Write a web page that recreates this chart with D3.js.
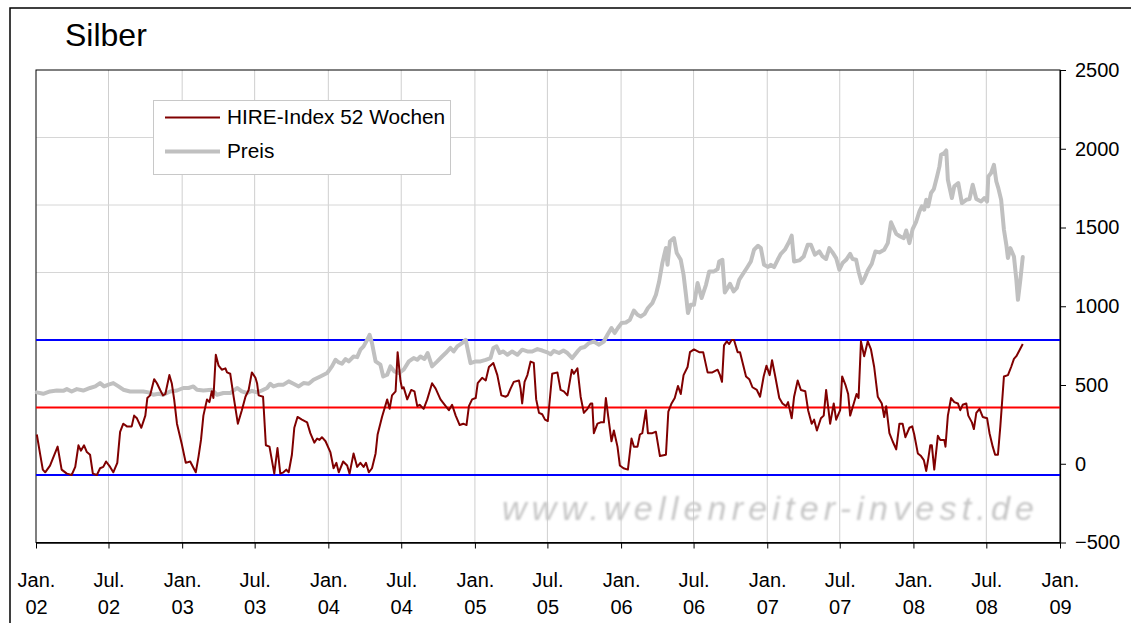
<!DOCTYPE html>
<html>
<head>
<meta charset="utf-8">
<script src="https://cdn.jsdelivr.net/npm/d3@7"></script>
<style>
  body { margin: 0; background: #fff; }
  svg { display: block; font-family: "Liberation Sans", Arial, sans-serif; }
</style>
</head>
<body>
<div id="chart"></div>
<script>
// days after 1 Jan 2002, value
const hireIndex = [
  [2,30],[10,16],[17,4],[23,2],[35,7],[54,21],[64,4],[77,1],[89,0],[98,6],[106,22],[112,18],[120,22],[127,17],[135,15],[142,1],[152,0],[160,5],[168,6],[175,10],[185,6],[193,2],[203,9],[210,32],[218,38],[227,36],[239,36],[245,44],[252,42],[263,35],[273,44],[278,57],[285,59],[295,71],[302,68],[310,63],[317,59],[323,60],[333,74],[339,68],[345,56],[352,38],[364,23],[374,9],[385,10],[399,2],[406,14],[412,26],[418,44],[427,56],[433,54],[439,62],[443,57],[449,89],[456,81],[464,78],[473,79],[477,76],[485,75],[493,59],[504,38],[514,48],[523,58],[531,63],[539,76],[548,72],[552,68],[556,59],[567,58],[574,22],[583,21],[595,1],[603,20],[610,1],[618,2],[625,4],[631,2],[639,15],[645,35],[653,43],[664,41],[677,39],[685,31],[695,24],[702,27],[708,26],[714,28],[723,25],[735,17],[743,5],[750,9],[756,2],[767,10],[777,7],[783,1],[793,16],[802,6],[810,9],[818,6],[824,9],[831,2],[839,5],[848,16],[853,30],[864,43],[877,56],[883,49],[889,59],[898,62],[903,91],[910,70],[914,64],[918,65],[927,56],[937,63],[945,62],[952,51],[958,52],[968,49],[977,56],[989,68],[998,64],[1010,56],[1023,51],[1031,48],[1039,52],[1048,44],[1058,37],[1067,38],[1075,37],[1081,51],[1089,56],[1098,57],[1103,68],[1114,72],[1123,70],[1131,80],[1142,83],[1152,74],[1162,59],[1173,58],[1178,59],[1185,64],[1193,69],[1206,70],[1210,64],[1214,53],[1220,69],[1227,74],[1235,84],[1243,83],[1249,56],[1256,46],[1264,45],[1271,41],[1278,40],[1289,75],[1302,76],[1310,63],[1318,62],[1327,59],[1338,78],[1343,75],[1352,79],[1360,58],[1368,46],[1377,49],[1385,53],[1389,53],[1393,31],[1402,38],[1410,39],[1418,39],[1423,57],[1429,43],[1437,25],[1443,33],[1452,21],[1458,7],[1467,5],[1478,4],[1487,27],[1493,21],[1502,21],[1508,30],[1514,31],[1523,48],[1528,31],[1539,31],[1548,32],[1558,14],[1573,15],[1579,47],[1587,53],[1595,57],[1603,66],[1610,60],[1617,74],[1627,80],[1633,91],[1643,93],[1656,91],[1666,91],[1677,76],[1689,76],[1702,78],[1708,74],[1713,69],[1718,96],[1725,99],[1731,97],[1737,100],[1743,100],[1752,91],[1758,91],[1773,73],[1781,71],[1789,65],[1800,63],[1808,58],[1817,73],[1824,81],[1832,74],[1838,85],[1846,73],[1856,57],[1864,53],[1873,51],[1878,54],[1887,42],[1893,58],[1902,70],[1910,63],[1921,62],[1928,48],[1937,38],[1943,41],[1950,33],[1960,42],[1967,44],[1973,63],[1983,38],[1992,53],[1998,41],[2008,48],[2013,73],[2021,67],[2028,60],[2033,44],[2042,53],[2049,60],[2054,57],[2060,99],[2068,88],[2077,99],[2085,93],[2093,80],[2102,58],[2112,53],[2118,43],[2123,51],[2131,31],[2139,25],[2148,19],[2156,38],[2164,38],[2171,28],[2181,35],[2188,36],[2193,30],[2202,16],[2210,14],[2217,11],[2223,3],[2228,12],[2233,22],[2237,22],[2243,4],[2252,29],[2258,26],[2268,26],[2271,21],[2277,44],[2285,57],[2293,54],[2302,53],[2308,48],[2314,52],[2323,53],[2328,44],[2337,39],[2342,34],[2348,46],[2356,49],[2364,43],[2375,42],[2381,31],[2389,21],[2395,15],[2402,15],[2408,36],[2417,73],[2427,74],[2435,80],[2442,86],[2448,88],[2464,97]
]

const silverPrice = [
  [2,453],[18,444],[35,459],[52,465],[68,463],[77,474],[89,459],[102,474],[118,465],[135,481],[148,491],[160,512],[170,491],[181,502],[193,512],[206,491],[218,470],[235,459],[252,459],[268,459],[281,453],[293,438],[306,444],[318,438],[335,459],[352,465],[368,481],[381,481],[393,491],[402,470],[418,465],[439,470],[452,438],[468,449],[485,449],[502,481],[514,459],[527,449],[539,463],[552,453],[564,465],[577,481],[585,508],[593,491],[606,502],[618,502],[631,523],[643,508],[656,491],[668,512],[681,508],[693,533],[710,554],[727,576],[739,618],[748,660],[756,643],[764,635],[773,665],[781,650],[793,681],[802,677],[810,724],[818,745],[827,787],[833,819],[839,766],[848,650],[860,629],[867,554],[877,565],[885,618],[895,586],[906,576],[918,597],[931,650],[943,671],[952,660],[960,681],[970,665],[978,703],[989,618],[1002,650],[1014,681],[1023,703],[1035,735],[1043,713],[1052,745],[1064,766],[1073,787],[1078,724],[1085,639],[1098,650],[1110,650],[1123,660],[1135,671],[1142,735],[1150,745],[1158,703],[1167,713],[1177,692],[1189,713],[1202,692],[1214,724],[1227,713],[1239,713],[1252,728],[1264,719],[1277,707],[1285,695],[1293,717],[1306,703],[1317,719],[1327,703],[1339,671],[1352,713],[1360,735],[1370,741],[1381,766],[1393,776],[1406,756],[1418,776],[1427,819],[1437,862],[1445,830],[1453,862],[1462,893],[1473,897],[1483,914],[1493,973],[1502,946],[1510,935],[1520,952],[1528,989],[1539,1020],[1548,1073],[1556,1157],[1564,1274],[1573,1370],[1577,1263],[1583,1411],[1593,1433],[1600,1338],[1610,1295],[1617,1200],[1623,1073],[1628,957],[1635,1009],[1643,1009],[1652,1147],[1662,1052],[1673,1136],[1681,1221],[1693,1221],[1702,1236],[1706,1284],[1714,1295],[1720,1088],[1727,1116],[1733,1143],[1742,1094],[1750,1116],[1756,1168],[1764,1200],[1775,1243],[1785,1284],[1793,1359],[1803,1384],[1810,1369],[1818,1263],[1828,1249],[1835,1263],[1843,1249],[1852,1295],[1860,1333],[1870,1359],[1881,1411],[1887,1448],[1893,1284],[1906,1291],[1917,1316],[1927,1390],[1935,1390],[1945,1327],[1956,1348],[1964,1316],[1973,1300],[1981,1369],[1989,1342],[1998,1306],[2006,1232],[2014,1274],[2023,1295],[2033,1333],[2039,1300],[2048,1295],[2054,1221],[2062,1147],[2068,1173],[2077,1227],[2087,1270],[2096,1348],[2106,1342],[2118,1359],[2127,1401],[2135,1533],[2148,1460],[2158,1443],[2167,1433],[2173,1481],[2181,1401],[2189,1490],[2198,1538],[2206,1602],[2212,1634],[2218,1613],[2223,1676],[2228,1634],[2235,1719],[2242,1744],[2250,1824],[2256,1888],[2260,1962],[2268,1973],[2273,1989],[2277,1803],[2287,1687],[2293,1761],[2303,1782],[2312,1655],[2323,1676],[2331,1681],[2339,1771],[2348,1681],[2360,1665],[2368,1687],[2375,1665],[2378,1824],[2385,1846],[2392,1898],[2398,1792],[2403,1750],[2410,1676],[2417,1486],[2423,1390],[2427,1306],[2433,1369],[2442,1316],[2448,1168],[2452,1041],[2458,1168],[2464,1312]
]

// HIRE band: lower, middle, upper (left, hidden axis)
const hireLevels = [0, 50, 100]
const hireLevelColors = ["#0000ff", "#ff0000", "#0000ff"]
const priceTicks = [-500, 0, 500, 1000, 1500, 2000, 2500]
const monthLabels = { 0: "Jan.", 6: "Jul." }

const width = 1131
const height = 623
const margin = ({ top: 70, right: 71, bottom: 80.5, left: 36 })

const day0 = new Date(2002, 0, 1)
const toDate = d => new Date(2002, 0, 1 + d)

const svg = d3.select("#chart").append("svg")
  .attr("width", width)
  .attr("height", height)

// outer chart frame (runs off the picture on the right and bottom)
svg.append("rect")
  .attr("x", 10).attr("y", 8)
  .attr("width", 1200).attr("height", 700)
  .attr("fill", "#fff")
  .attr("stroke", "#000")
  .attr("stroke-width", 1.5)

const x = d3.scaleTime()
  .domain([day0, new Date(2009, 0, 1)])
  .range([margin.left, width - margin.right])

const yPrice = d3.scaleLinear()
  .domain([-500, 2500])
  .range([height - margin.bottom, margin.top])

const yHire = d3.scaleLinear()
  .domain([-50, 300])
  .range([height - margin.bottom, margin.top])

const halfYears = d3.timeMonth.every(6).range(day0, new Date(2009, 0, 2))

// grid
svg.append("g")
  .selectAll("line")
  .data(halfYears.slice(1, -1))
  .join("line")
  .attr("x1", d => x(d)).attr("x2", d => x(d))
  .attr("y1", margin.top).attr("y2", height - margin.bottom)
  .attr("stroke", "#cfcfcf")
  .attr("stroke-width", 1)

svg.append("g")
  .selectAll("line")
  .data(d3.range(0, 300, 50))
  .join("line")
  .attr("x1", margin.left).attr("x2", width - margin.right)
  .attr("y1", d => yHire(d)).attr("y2", d => yHire(d))
  .attr("stroke", "#d6d6d6")
  .attr("stroke-width", 1)

// plot area border
svg.append("rect")
  .attr("x", margin.left).attr("y", margin.top)
  .attr("width", width - margin.left - margin.right)
  .attr("height", height - margin.top - margin.bottom)
  .attr("fill", "none")
  .attr("stroke", "#000")
  .attr("stroke-width", 1)

// watermark
const defs = svg.append("defs")
defs.append("filter").attr("id", "soft")
  .append("feGaussianBlur").attr("stdDeviation", 0.9)

svg.append("text")
  .attr("x", 502).attr("y", 520)
  .attr("font-size", 34)
  .attr("font-style", "italic")
  .attr("fill", "#c6c6c6")
  .attr("textLength", 532)
  .attr("filter", "url(#soft)")
  .text("www.wellenreiter-invest.de")

// band lines
svg.append("g")
  .selectAll("line")
  .data(hireLevels)
  .join("line")
  .attr("x1", margin.left).attr("x2", width - margin.right)
  .attr("y1", d => yHire(d)).attr("y2", d => yHire(d))
  .attr("stroke", (d, i) => hireLevelColors[i])
  .attr("stroke-width", 2)

const linePrice = d3.line()
  .x(d => x(toDate(d[0])))
  .y(d => yPrice(d[1]))

const lineHire = d3.line()
  .x(d => x(toDate(d[0])))
  .y(d => yHire(d[1]))

svg.append("path")
  .datum(silverPrice)
  .attr("fill", "none")
  .attr("stroke", "#c0c0c0")
  .attr("stroke-width", 4)
  .attr("stroke-linejoin", "round")
  .attr("stroke-linecap", "round")
  .attr("d", linePrice)

svg.append("path")
  .datum(hireIndex)
  .attr("fill", "none")
  .attr("stroke", "#800000")
  .attr("stroke-width", 2)
  .attr("stroke-linejoin", "round")
  .attr("d", lineHire)

// right axis
const yAxis = g => g
  .attr("transform", `translate(${width - margin.right},0)`)
  .call(d3.axisRight(yPrice).tickValues(priceTicks).tickFormat(d3.format("d"))
    .tickSize(6).tickPadding(9).tickSizeOuter(0))
  .call(g => g.select(".domain").attr("stroke-width", 1.2))
  .call(g => g.selectAll("text").attr("font-size", 20).attr("font-family", null).attr("fill", "#000"))

svg.append("g").call(yAxis)

// bottom axis
const xAxis = g => g
  .attr("transform", `translate(0,${height - margin.bottom})`)
  .call(d3.axisBottom(x).tickValues(halfYears).tickSize(6).tickFormat("").tickSizeOuter(0))
  .call(g => g.select(".domain").attr("stroke-width", 1.5))

const gx = svg.append("g").call(xAxis)

gx.selectAll(".tick").append("text")
  .attr("y", 44)
  .attr("fill", "#000")
  .attr("font-size", 20)
  .attr("text-anchor", "middle")
  .text(d => monthLabels[d.getMonth()])

gx.selectAll(".tick").append("text")
  .attr("y", 71)
  .attr("fill", "#000")
  .attr("font-size", 20)
  .attr("text-anchor", "middle")
  .text(d => d3.timeFormat("%y")(d))

// title
svg.append("text")
  .attr("x", 65).attr("y", 46)
  .attr("font-size", 32)
  .text("Silber")

// legend
const legend = svg.append("g")
legend.append("rect")
  .attr("x", 153.5).attr("y", 100.5)
  .attr("width", 297).attr("height", 74)
  .attr("fill", "#fff")
  .attr("stroke", "#c8c8c8")

const legendItems = [
  { name: "HIRE-Index 52 Wochen", color: "#800000", w: 2, y: 117.5 },
  { name: "Preis", color: "#c0c0c0", w: 4, y: 151.5 }
]

legend.selectAll("line")
  .data(legendItems)
  .join("line")
  .attr("x1", 165).attr("x2", 220)
  .attr("y1", d => d.y).attr("y2", d => d.y)
  .attr("stroke", d => d.color)
  .attr("stroke-width", d => d.w)

legend.selectAll("text")
  .data(legendItems)
  .join("text")
  .attr("x", 227)
  .attr("y", d => d.y + 6.5)
  .attr("font-size", 20.8)
  .text(d => d.name)
</script>
</body>
</html>
